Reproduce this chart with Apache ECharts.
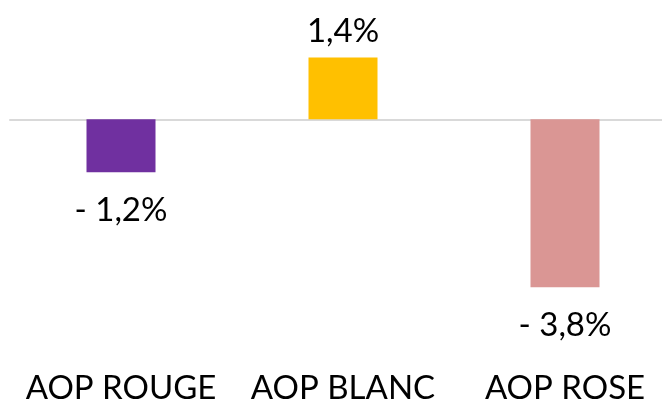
<!DOCTYPE html>
<html>
<head>
<meta charset="utf-8">
<script src="https://cdn.jsdelivr.net/npm/echarts@6/dist/echarts.min.js"></script>
<style>html,body{margin:0;padding:0;background:#fff;}#c{width:662px;height:403px;}</style>
</head>
<body>
<div id="c"></div>
<script>
var categories = ['AOP ROUGE', 'AOP BLANC', 'AOP ROSE'];
var values = [-1.2, 1.4, -3.8];
var colors = ['#7030A0', '#FFC000', '#DA9694'];

function fmt(v) {
  var s = Math.abs(v).toFixed(1).replace('.', ',') + '%';
  return v < 0 ? '- ' + s : s;
}

var chart = echarts.init(document.getElementById('c'));
chart.setOption({
  animation: false,
  grid: { left: 10, right: -14, top: 31, height: 265, containLabel: false, outerBoundsMode: 'none' },
  xAxis: [{
    type: 'category',
    data: categories,
    axisLine: { show: false, onZero: false },
    axisTick: { show: false },
    axisLabel: { interval: 0, hideOverlap: false, fontFamily: 'Lato', fontSize: 33, color: '#000', margin: 76 }
  }, {
    type: 'category',
    data: categories,
    position: 'bottom',
    axisLine: { show: true, onZero: true, lineStyle: { color: '#d9d9d9', width: 2 } },
    axisTick: { show: false },
    axisLabel: { show: false }
  }],
  yAxis: { type: 'value', min: -4, max: 2, show: false, splitLine: { show: false } },
  series: [{
    type: 'bar',
    barWidth: 69,
    data: values.map(function (v, i) {
      return {
        value: v,
        itemStyle: { color: colors[i] },
        label: { position: v < 0 ? 'bottom' : 'top', distance: v < 0 ? 22 : 10 }
      };
    }),
    label: {
      show: true,
      fontFamily: 'Lato',
      fontSize: 33,
      color: '#000',
      formatter: function (p) { return fmt(p.value); }
    }
  }]
});
</script>
</body>
</html>
